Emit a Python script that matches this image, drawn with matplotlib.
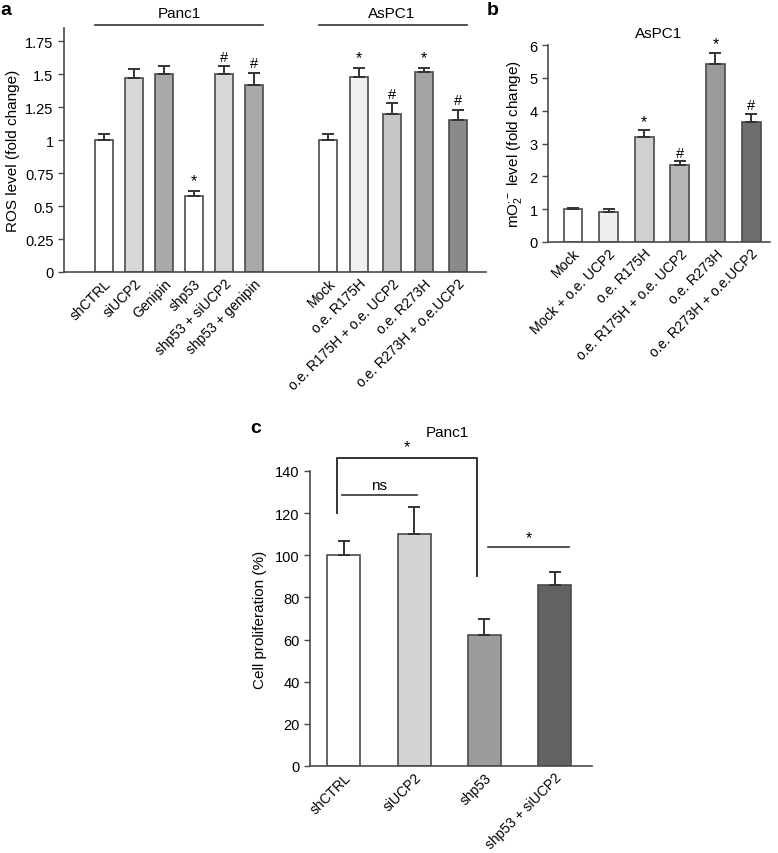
import numpy as np
import matplotlib
matplotlib.use("Agg")
import matplotlib.pyplot as plt

plt.rcParams['font.family'] = ['Liberation Sans', 'DejaVu Sans']
plt.rcParams['font.size'] = 10.5
plt.rcParams['mathtext.fontset'] = 'custom'
plt.rcParams['mathtext.rm'] = 'Liberation Sans'
plt.rcParams['mathtext.it'] = 'Liberation Sans:italic'

EDGE = '#4a4a4a'

# panel a: ROS level
a_panc_labels = ['shCTRL', 'siUCP2', 'Genipin', 'shp53', 'shp53 + siUCP2', 'shp53 + genipin']
a_panc_vals = [1.0, 1.47, 1.50, 0.575, 1.50, 1.42]
a_panc_err = [0.05, 0.07, 0.06, 0.04, 0.06, 0.09]
a_panc_marks = ['', '', '', '*', '#', '#']
a_panc_colors = ['#ffffff', '#d8d8da', '#a9a9ab', '#ffffff', '#d8d8da', '#a9a9ab']

a_aspc_labels = ['Mock', 'o.e. R175H', 'o.e. R175H + o.e. UCP2', 'o.e. R273H', 'o.e. R273H + o.e.UCP2']
a_aspc_vals = [1.0, 1.48, 1.20, 1.52, 1.15]
a_aspc_err = [0.05, 0.07, 0.08, 0.03, 0.08]
a_aspc_marks = ['', '*', '#', '*', '#']
a_aspc_colors = ['#ffffff', '#f0f0f0', '#c6c6c8', '#a4a4a6', '#8a8a8c']

# panel b: mitochondrial superoxide
b_labels = ['Mock', 'Mock + o.e. UCP2', 'o.e. R175H', 'o.e. R175H + o.e. UCP2', 'o.e. R273H', 'o.e. R273H + o.e.UCP2']
b_vals = [1.0, 0.92, 3.2, 2.33, 5.42, 3.65]
b_err = [0.04, 0.07, 0.2, 0.13, 0.35, 0.25]
b_marks = ['', '', '*', '#', '*', '#']
b_colors = ['#ffffff', '#efefef', '#d0d0d2', '#b6b6b8', '#9a9a9c', '#6e6e70']

# panel c: cell proliferation
c_labels = ['shCTRL', 'siUCP2', 'shp53', 'shp53 + siUCP2']
c_vals = [100, 110, 62, 86]
c_err = [7, 13, 8, 6]
c_colors = ['#ffffff', '#d4d4d6', '#9c9c9e', '#626264']


def style_axes(ax):
    for s in ['top', 'right']:
        ax.spines[s].set_visible(False)
    for s in ['left', 'bottom']:
        ax.spines[s].set_color(EDGE)
        ax.spines[s].set_linewidth(1.2)
    ax.tick_params(axis='y', direction='out', length=4, color=EDGE, width=1)
    ax.tick_params(axis='x', length=0, pad=3, labelsize=10)


def bars(ax, x, vals, err, colors, width, marks=None, off=0.0):
    ax.bar(x, vals, width=width, color=colors, edgecolor=EDGE, linewidth=1.2, zorder=2)
    ax.errorbar(x, vals, yerr=[np.zeros(len(vals)), err], fmt='none',
                ecolor='#333333', elinewidth=1.4, capsize=4, capthick=1.4, zorder=3)
    if marks:
        for xi, v, e, m in zip(x, vals, err, marks):
            if m:
                ax.text(xi, v + e + off, m, ha='center', va='bottom',
                        fontsize=10.5 if m == '#' else 11.5)


fig = plt.figure(figsize=(7.78, 8.54), dpi=100)

# ---- panel a
axa = fig.add_axes([64 / 778, 1 - 273 / 854, (486 - 64) / 778, (273 - 29) / 854])
xa1 = np.arange(6)
xa2 = np.array([7.47, 8.5, 9.6, 10.67, 11.8])
bars(axa, xa1, a_panc_vals, a_panc_err, a_panc_colors, 0.6, a_panc_marks, 0.02)
bars(axa, xa2, a_aspc_vals, a_aspc_err, a_aspc_colors, 0.6, a_aspc_marks, 0.02)
style_axes(axa)
axa.set_xlim(-1.33, 12.73)
axa.set_ylim(0, 1.85)
axa.set_yticks([0, 0.25, 0.5, 0.75, 1, 1.25, 1.5, 1.75])
axa.set_yticklabels(['0', '0.25', '0.5', '0.75', '1', '1.25', '1.5', '1.75'])
axa.set_xticks(np.concatenate([xa1, xa2]))
axa.set_xticklabels(a_panc_labels + a_aspc_labels, rotation=45, ha='right',
                    rotation_mode='anchor')
axa.set_ylabel('ROS level (fold change)', labelpad=4, fontsize=11)
# group headers
axa.plot([-0.3, 5.3], [1.87, 1.87], color='#333333', lw=1.2, clip_on=False)
axa.plot([7.15, 12.1], [1.87, 1.87], color='#333333', lw=1.2, clip_on=False)
axa.text(2.5, 1.91, 'Panc1', ha='center', va='bottom', fontsize=11)
axa.text(9.6, 1.91, 'AsPC1', ha='center', va='bottom', fontsize=11)
fig.text(0.0, 1 - 2 / 854, 'a', fontsize=14, fontweight='bold', va='top')

# ---- panel b
axb = fig.add_axes([548 / 778, 1 - 243 / 854, (770 - 548) / 778, (243 - 46) / 854])
xb = np.arange(6)
bars(axb, xb, b_vals, b_err, b_colors, 0.53, b_marks, 0.05)
style_axes(axb)
axb.set_xlim(-0.7, 5.53)
axb.set_ylim(0, 6)
axb.set_yticks(range(7))
axb.set_xticks(xb)
axb.set_xticklabels(b_labels, rotation=45, ha='right', rotation_mode='anchor')
axb.set_ylabel(r'mO$_2^{\cdot-}$ level (fold change)', labelpad=4, fontsize=11)
axb.set_title('AsPC1', fontsize=11, pad=6)
fig.text(487 / 778, 1 - 2 / 854, 'b', fontsize=14, fontweight='bold', va='top')

# ---- panel c
axc = fig.add_axes([310 / 778, 1 - 767 / 854, (592 - 310) / 778, (767 - 472) / 854])
xc = np.arange(4)
bars(axc, xc, c_vals, c_err, c_colors, 0.47)
style_axes(axc)
axc.set_xlim(-0.48, 3.53)
axc.set_ylim(0, 140)
axc.set_yticks(range(0, 141, 20))
axc.set_xticks(xc)
axc.set_xticklabels(c_labels, rotation=45, ha='right', rotation_mode='anchor')
axc.set_ylabel('Cell proliferation (%)', labelpad=6, fontsize=11)
# significance brackets
axc.plot([-0.1, -0.1, 1.89, 1.89], [120, 146, 146, 90], color='#333333', lw=1.4, clip_on=False)
axc.text(0.9, 148, '*', ha='center', va='bottom', fontsize=11.5)
axc.plot([-0.03, 1.04], [128.5, 128.5], color='#333333', lw=1.2)
axc.text(0.5, 130, 'ns', ha='center', va='bottom', fontsize=11)
axc.plot([2.05, 3.21], [104, 104], color='#333333', lw=1.2)
axc.text(2.63, 105, '*', ha='center', va='bottom', fontsize=11.5)
axc.text(1.47, 155, 'Panc1', ha='center', va='bottom', fontsize=11)
fig.text(250 / 778, 1 - 420 / 854, 'c', fontsize=14, fontweight='bold', va='top')

fig.savefig('out.png', dpi=100)
